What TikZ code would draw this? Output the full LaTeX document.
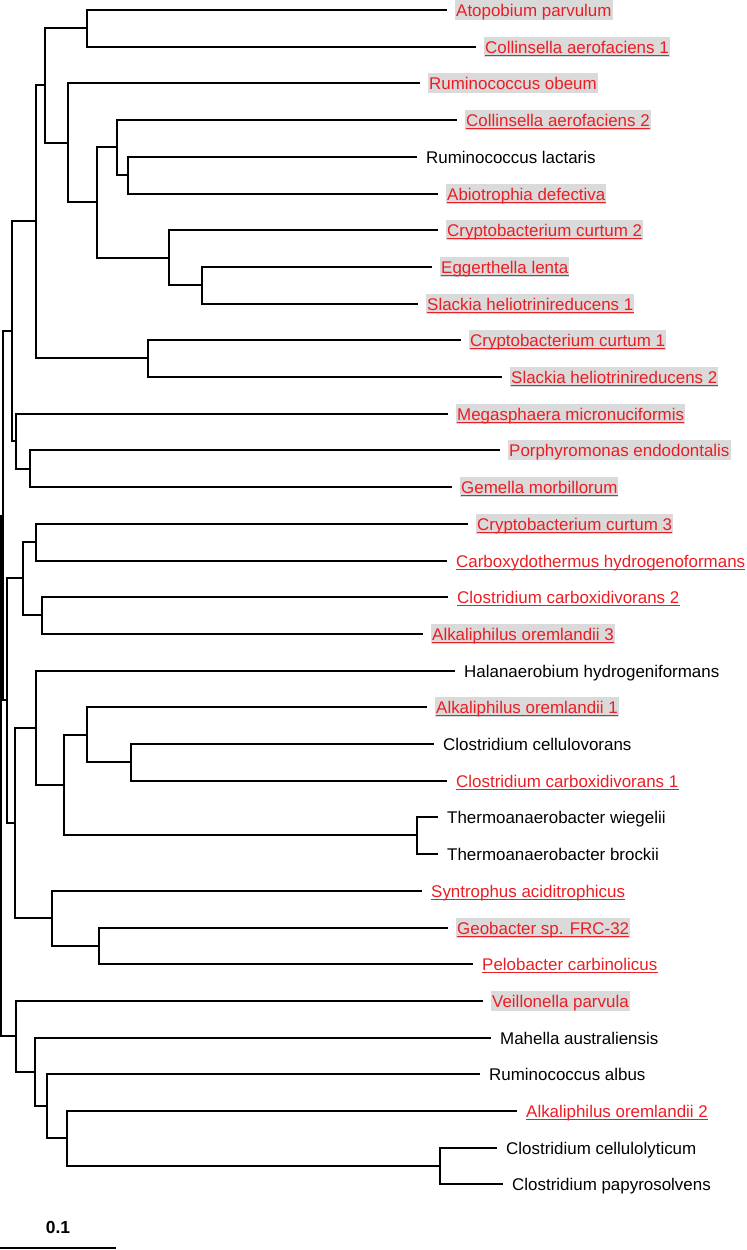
\documentclass[tikz,border=0pt]{standalone}
\usepackage{fontspec}
\setmainfont{Liberation Sans}
\definecolor{tred}{RGB}{234,30,36}
\definecolor{tgray}{RGB}{218,218,218}
\begin{document}
\begin{tikzpicture}[x=1bp,y=-1bp,
  br/.style={line width=2bp, line join=miter},
  lab/.style={font=\fontsize{17}{20}\selectfont, inner xsep=1bp, inner ysep=1bp, text height=15bp, text depth=2.5bp, anchor=base west},
  labk/.style={lab, text=black},
  labg/.style={lab, text=tred, fill=tgray},
  ulin/.style={append after command={([xshift=1bp,yshift=-2.6bp]\tikzlastnode.base west) edge[draw=tred, line width=1.6bp] ([xshift=-1bp,yshift=-2.6bp]\tikzlastnode.base east)}},
  labgu/.style={labg, ulin},
  labu/.style={lab, text=tred, ulin}]
\useasboundingbox (0,0) rectangle (747,1250);
\newcommand{\mkleaf}[5]{%
  \coordinate (#1) at (#2,#3);
  \node[#4] (#1t) at ([xshift=8bp,yshift=-6bp]#1) {#5};}
% leaves
\mkleaf{l0}{447}{10}{labg}{Atopobium parvulum}
\mkleaf{l1}{476}{47}{labgu}{Collinsella aerofaciens 1}
\mkleaf{l2}{420}{83}{labg}{Ruminococcus obeum}
\mkleaf{l3}{457}{120}{labgu}{Collinsella aerofaciens 2}
\mkleaf{l4}{417}{157}{labk}{Ruminococcus lactaris}
\mkleaf{l5}{438}{194}{labgu}{Abiotrophia defectiva}
\mkleaf{l6}{438}{230}{labgu}{Cryptobacterium curtum 2}
\mkleaf{l7}{432}{267}{labgu}{Eggerthella lenta}
\mkleaf{l8}{418}{304}{labgu}{Slackia heliotrinireducens 1}
\mkleaf{l9}{461}{340}{labgu}{Cryptobacterium curtum 1}
\mkleaf{l10}{502}{377}{labgu}{Slackia heliotrinireducens 2}
\mkleaf{l11}{448}{414}{labgu}{Megasphaera micronuciformis}
\mkleaf{l12}{500}{450}{labg}{Porphyromonas endodontalis}
\mkleaf{l13}{452}{487}{labgu}{Gemella morbillorum}
\mkleaf{l14}{468}{524}{labgu}{Cryptobacterium curtum 3}
\mkleaf{l15}{447}{561}{labu}{Carboxydothermus hydrogenoformans}
\mkleaf{l16}{448}{597}{labu}{Clostridium carboxidivorans 2}
\mkleaf{l17}{423}{634}{labgu}{Alkaliphilus oremlandii 3}
\mkleaf{l18}{455}{671}{labk}{Halanaerobium hydrogeniformans}
\mkleaf{l19}{427}{707}{labgu}{Alkaliphilus oremlandii 1}
\mkleaf{l20}{434}{744}{labk}{Clostridium cellulovorans}
\mkleaf{l21}{447}{781}{labu}{Clostridium carboxidivorans 1}
\mkleaf{l22}{438}{817}{labk}{Thermoanaerobacter wiegelii}
\mkleaf{l23}{438}{854}{labk}{Thermoanaerobacter brockii}
\mkleaf{l24}{422}{891}{labu}{Syntrophus aciditrophicus}
\mkleaf{l25}{448}{928}{labgu}{Geobacter sp. FRC-32}
\mkleaf{l26}{473}{964}{labu}{Pelobacter carbinolicus}
\mkleaf{l27}{483}{1001}{labg}{Veillonella parvula}
\mkleaf{l28}{491}{1038}{labk}{Mahella australiensis}
\mkleaf{l29}{480}{1074}{labk}{Ruminococcus albus}
\mkleaf{l30}{517}{1111}{labu}{Alkaliphilus oremlandii 2}
\mkleaf{l31}{497}{1148}{labk}{Clostridium cellulolyticum}
\mkleaf{l32}{503}{1184}{labk}{Clostridium papyrosolvens}
% internal nodes
\coordinate (nA) at (87,28);
\coordinate (nE) at (128,175);
\coordinate (nD) at (117,147);
\coordinate (nG) at (202,285);
\coordinate (nF) at (169,258);
\coordinate (nC) at (97,202);
\coordinate (nB) at (68,143);
\coordinate (nAB) at (45,85);
\coordinate (nH) at (148,358);
\coordinate (nI) at (36,221);
\coordinate (nJ) at (30,469);
\coordinate (nK) at (16,441);
\coordinate (nTwo) at (12,331);
\coordinate (nL) at (36,542);
\coordinate (nM) at (42,615);
\coordinate (nN) at (23,578);
\coordinate (nO) at (131,762);
\coordinate (nP) at (87,735);
\coordinate (nQ) at (417,835);
\coordinate (nR) at (64,785);
\coordinate (nS) at (36,728);
\coordinate (nT) at (99,946);
\coordinate (nU) at (52,918);
\coordinate (nV) at (15,823);
\coordinate (nThree) at (7,700);
\coordinate (nOne) at (3,516);
\coordinate (nW) at (440,1166);
\coordinate (nX) at (67,1138);
\coordinate (nY) at (47,1106);
\coordinate (nZ) at (35,1072);
\coordinate (nBot) at (16,1036);
\coordinate (root) at (1,776);
% branches
\draw[br] (nA) |- (l0); \draw[br] (nA) |- (l1);
\draw[br] (nE) |- (l4); \draw[br] (nE) |- (l5);
\draw[br] (nD) |- (l3); \draw[br] (nD) |- (nE);
\draw[br] (nG) |- (l7); \draw[br] (nG) |- (l8);
\draw[br] (nF) |- (l6); \draw[br] (nF) |- (nG);
\draw[br] (nC) |- (nD); \draw[br] (nC) |- (nF);
\draw[br] (nB) |- (l2); \draw[br] (nB) |- (nC);
\draw[br] (nAB) |- (nA); \draw[br] (nAB) |- (nB);
\draw[br] (nH) |- (l9); \draw[br] (nH) |- (l10);
\draw[br] (nI) |- (nAB); \draw[br] (nI) |- (nH);
\draw[br] (nJ) |- (l12); \draw[br] (nJ) |- (l13);
\draw[br] (nK) |- (l11); \draw[br] (nK) |- (nJ);
\draw[br] (nTwo) |- (nI); \draw[br] (nTwo) |- (nK);
\draw[br] (nL) |- (l14); \draw[br] (nL) |- (l15);
\draw[br] (nM) |- (l16); \draw[br] (nM) |- (l17);
\draw[br] (nN) |- (nL); \draw[br] (nN) |- (nM);
\draw[br] (nO) |- (l20); \draw[br] (nO) |- (l21);
\draw[br] (nP) |- (l19); \draw[br] (nP) |- (nO);
\draw[br] (nQ) |- (l22); \draw[br] (nQ) |- (l23);
\draw[br] (nR) |- (nP); \draw[br] (nR) |- (nQ);
\draw[br] (nS) |- (l18); \draw[br] (nS) |- (nR);
\draw[br] (nT) |- (l25); \draw[br] (nT) |- (l26);
\draw[br] (nU) |- (l24); \draw[br] (nU) |- (nT);
\draw[br] (nV) |- (nS); \draw[br] (nV) |- (nU);
\draw[br] (nThree) |- (nN); \draw[br] (nThree) |- (nV);
\draw[br] (nOne) |- (nTwo); \draw[br] (nOne) |- (nThree);
\draw[br] (nW) |- (l31); \draw[br] (nW) |- (l32);
\draw[br] (nX) |- (l30); \draw[br] (nX) |- (nW);
\draw[br] (nY) |- (l29); \draw[br] (nY) |- (nX);
\draw[br] (nZ) |- (l28); \draw[br] (nZ) |- (nY);
\draw[br] (nBot) |- (l27); \draw[br] (nBot) |- (nZ);
\draw[br] (root) |- (nOne); \draw[br] (root) |- (nBot);
% scale bar
\node[font=\fontsize{17.5}{20}\selectfont\bfseries, inner sep=0pt] (sclab) at (58,1227) {0.1};
\coordinate (sb1) at (0,1248);
\coordinate (sb2) at (116,1248);
\draw[br] (sb1) -- (sb2);
\end{tikzpicture}
\end{document}
